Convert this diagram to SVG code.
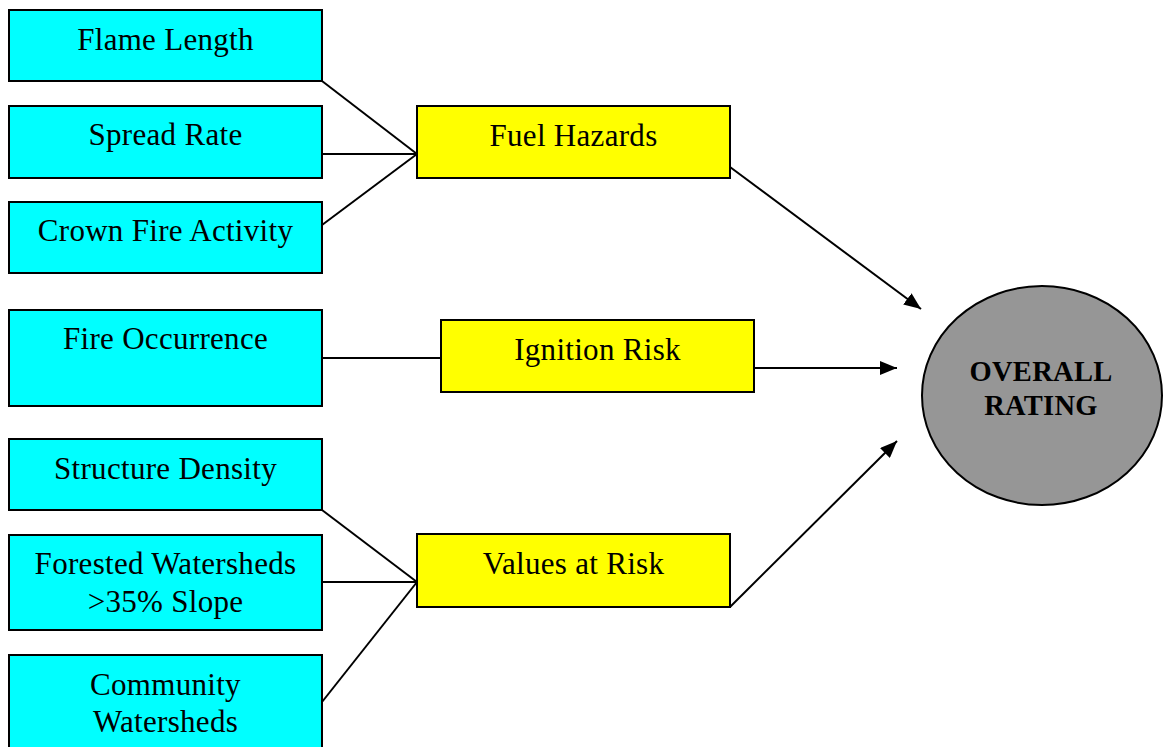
<svg xmlns="http://www.w3.org/2000/svg" width="1165" height="747" viewBox="0 0 1165 747">
<style>
.in{fill:#00FFFF;stroke:#000;stroke-width:2}
.mid{fill:#FFFF00;stroke:#000;stroke-width:2}
.out{fill:#969696;stroke:#000;stroke-width:2}
text{font-family:"Liberation Serif","Times New Roman",serif;font-size:31px;letter-spacing:0.3px;fill:#000;text-anchor:middle}
.b{font-weight:bold;font-size:28.5px;letter-spacing:0.3px}
.c{stroke:#000;stroke-width:2;fill:none}
</style>
<defs>
<marker id="ah" markerWidth="17" markerHeight="14" refX="17" refY="7" orient="auto" markerUnits="userSpaceOnUse">
<path d="M0,0 L17,7 L0,14 z" fill="#000"/>
</marker>
</defs>
<rect width="1165" height="747" fill="#fff"/>
<g id="connectors">
<line class="c" x1="322" y1="81" x2="417" y2="154"/>
<line class="c" x1="322" y1="154" x2="417" y2="154"/>
<line class="c" x1="322" y1="225" x2="417" y2="154"/>
<line class="c" x1="322" y1="358" x2="441" y2="358"/>
<line class="c" x1="322" y1="510" x2="417" y2="582"/>
<line class="c" x1="322" y1="582" x2="417" y2="582"/>
<line class="c" x1="322" y1="702" x2="417" y2="582"/>
<line class="c" x1="730" y1="167" x2="921" y2="309" marker-end="url(#ah)"/>
<line class="c" x1="754" y1="368" x2="897" y2="368" marker-end="url(#ah)"/>
<line class="c" x1="730" y1="607" x2="897" y2="441" marker-end="url(#ah)"/>
</g>
<g id="flame-length"><rect class="in" x="9" y="10" width="313" height="71"/><text x="165.5" y="50">Flame Length</text></g>
<g id="spread-rate"><rect class="in" x="9" y="106" width="313" height="72"/><text x="165.5" y="145">Spread Rate</text></g>
<g id="crown-fire"><rect class="in" x="9" y="202" width="313" height="71"/><text x="165.5" y="241">Crown Fire Activity</text></g>
<g id="fire-occurrence"><rect class="in" x="9" y="310" width="313" height="96"/><text x="165.5" y="349">Fire Occurrence</text></g>
<g id="structure-density"><rect class="in" x="9" y="439" width="313" height="71"/><text x="165.5" y="479">Structure Density</text></g>
<g id="forested-watersheds"><rect class="in" x="9" y="535" width="313" height="95"/><text x="165.5" y="574">Forested Watersheds</text><text x="165.5" y="612">&gt;35% Slope</text></g>
<g id="community-watersheds"><rect class="in" x="9" y="655" width="313" height="100"/><text x="165.5" y="695">Community</text><text x="165.5" y="732">Watersheds</text></g>
<g id="fuel-hazards"><rect class="mid" x="417" y="106" width="313" height="72"/><text x="573.5" y="146">Fuel Hazards</text></g>
<g id="ignition-risk"><rect class="mid" x="441" y="320" width="313" height="72"/><text x="597.5" y="360">Ignition Risk</text></g>
<g id="values-at-risk"><rect class="mid" x="417" y="534" width="313" height="73"/><text x="573.5" y="574">Values at Risk</text></g>
<g id="overall-rating"><ellipse class="out" cx="1042" cy="395.5" rx="120" ry="109.5"/><text class="b" x="1041" y="381">OVERALL</text><text class="b" x="1041" y="415">RATING</text></g>
</svg>
